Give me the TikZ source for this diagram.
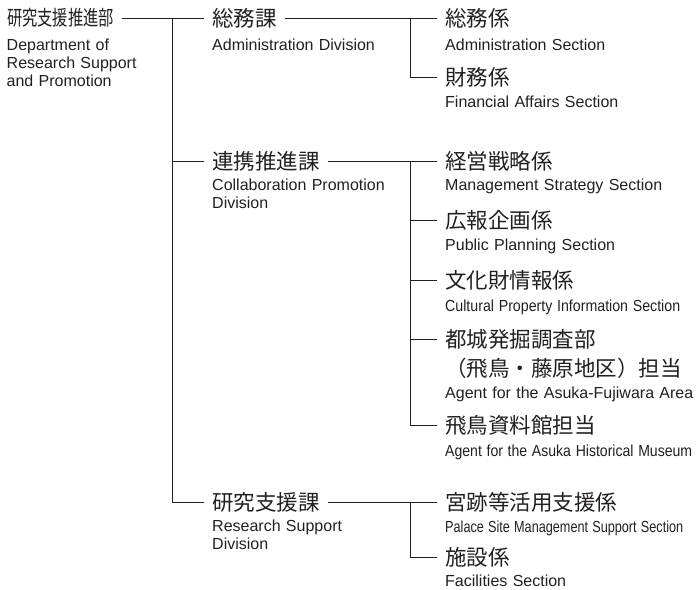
\documentclass[tikz,border=0pt]{standalone}
\usepackage{fontspec}
\usepackage{graphicx}
\setmainfont{Liberation Sans}
\newfontfamily\jpfont{Noto Sans CJK JP}
\definecolor{ink}{HTML}{231F20}
\newcommand{\narrow}[2]{\resizebox{#1}{\height}{#2}}
\begin{document}
\begin{tikzpicture}[x=1pt,y=-1pt,
  jp/.style={anchor=west,inner sep=0pt,outer xsep=8pt,outer ysep=0pt,
    text height=17.8pt,text depth=1.5pt,text=ink,
    font=\jpfont\fontsize{21.5}{22}\selectfont},
  jpnarrow/.style={jp,text height=17pt,text depth=1.4pt,
    font=\jpfont\fontsize{20.5}{21}\selectfont},
  en/.style={anchor=base west,inner sep=0pt,text=ink,align=left,
    text width=260pt,font=\fontsize{16}{18}\selectfont},
  link/.style={draw=ink,line width=0.9pt}]
\useasboundingbox (0,0) rectangle (696,589);

% department
\node [jpnarrow] (dept) at (-1,18) {\narrow{107pt}{研究支援推進部}};
\node [en] (deptEn) at (6.5,50) {Department of\\Research Support\\and Promotion};

% divisions
\node [jp] (ka1) at (204,18) {総務課};
\node [en] (ka1En) at (212,50) {Administration Division};
\node [jp] (ka2) at (204,161) {連携推進課};
\node [en] (ka2En) at (212,190) {Collaboration Promotion\\Division};
\node [jp] (ka3) at (204,502) {研究支援課};
\node [en] (ka3En) at (212,531) {Research Support\\Division};

% sections
\node [jp] (s11) at (437,18) {総務係};
\node [en] (s11En) at (445,50) {Administration Section};
\node [jp] (s12) at (437,77) {財務係};
\node [en] (s12En) at (445,107) {Financial Affairs Section};

\node [jp] (s21) at (437,161) {経営戦略係};
\node [en] (s21En) at (445,190) {Management Strategy Section};
\node [jp] (s22) at (437,220) {広報企画係};
\node [en] (s22En) at (445,250) {Public Planning Section};
\node [jp] (s23) at (437,280) {文化財情報係};
\node [en] (s23En) at (445,311) {\narrow{235pt}{Cultural Property Information Section}};
\node [jp] (s24) at (437,339) {都城発掘調査部};
\node [jp] (s24b) at (437,368) {（飛鳥・藤原地区）担当};
\node [en] (s24En) at (445,398) {Agent for the Asuka-Fujiwara Area};
\node [jp] (s25) at (437,425) {飛鳥資料館担当};
\node [en] (s25En) at (445,456) {\narrow{247pt}{Agent for the Asuka Historical Museum}};

\node [jp] (s31) at (437,502) {宮跡等活用支援係};
\node [en] (s31En) at (445,532) {\narrow{238pt}{Palace Site Management Support Section}};
\node [jp] (s32) at (437,557) {施設係};
\node [en] (s32En) at (445,586) {Facilities Section};

% connectors
\coordinate (j0) at (172,18);
\draw [link] (dept.east) -- (ka1.west);
\draw [link] (j0) |- (ka3.west);
\draw [link] (j0 |- ka2.west) -- (ka2.west);

\coordinate (j1) at (410,18);
\draw [link] (ka1.east) -- (s11.west);
\draw [link] (j1) |- (s12.west);

\coordinate (j2) at (410,161);
\draw [link] (ka2.east) -- (s21.west);
\draw [link] (j2) |- (s25.west);
\foreach \s in {s22,s23,s24}
  \draw [link] (j2 |- \s.west) -- (\s.west);

\coordinate (j3) at (410,502);
\draw [link] (ka3.east) -- (s31.west);
\draw [link] (j3) |- (s32.west);
\end{tikzpicture}
\end{document}
